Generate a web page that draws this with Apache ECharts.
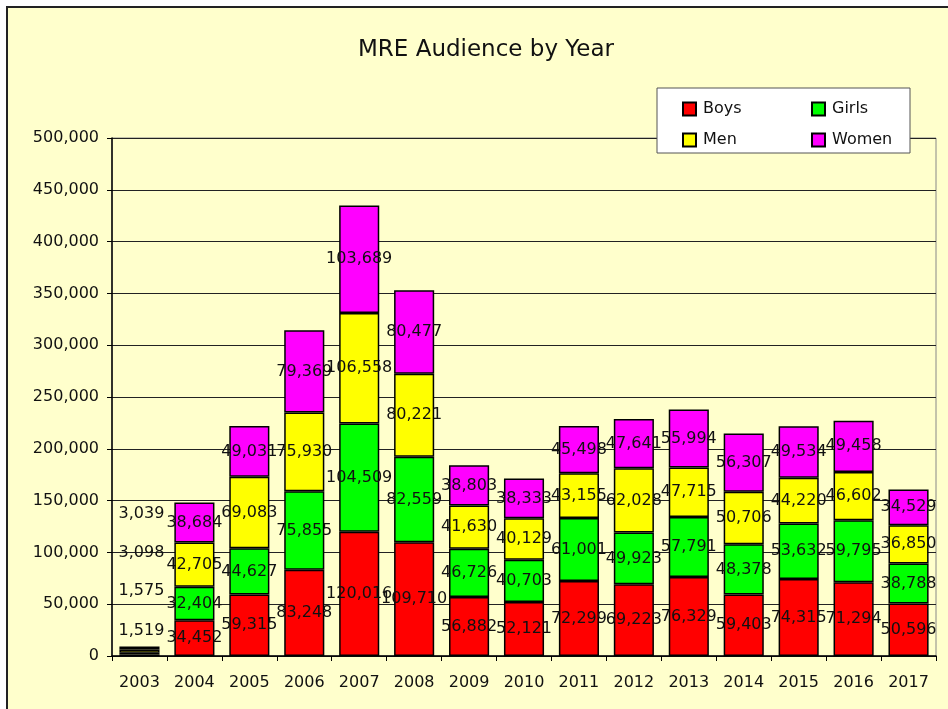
<!DOCTYPE html>
<html>
<head>
<meta charset="utf-8">
<script src="https://cdn.jsdelivr.net/npm/echarts@6/dist/echarts.min.js"></script>
<style>
  html, body { margin: 0; padding: 0; background: #ffffff; width: 948px; height: 709px; overflow: hidden; }
  #bg { position: absolute; left: 6px; top: 6px; width: 1000px; height: 800px; background: #FFFFCC; border-left: 2px solid #222; border-top: 2px solid #222; }
  #chart { position: absolute; left: 0; top: 0; width: 948px; height: 709px; }
</style>
</head>
<body>
<div id="bg"></div>
<div id="chart"></div>
<script>
// ---- Data ----
const years = ['2003','2004','2005','2006','2007','2008','2009','2010','2011','2012','2013','2014','2015','2016','2017'];
const boys  = [1519, 34452, 59315, 83248, 120016, 109710, 56882, 52121, 72299, 69223, 76329, 59403, 74315, 71294, 50596];
const girls = [1575, 32404, 44627, 75855, 104509, 82559, 46726, 40703, 61001, 49923, 57791, 48378, 53632, 59795, 38788];
const men   = [3098, 42705, 69083, 75930, 106558, 80221, 41630, 40129, 43155, 62028, 47715, 50706, 44220, 46602, 36850];
const women = [3039, 38684, 49031, 79369, 103689, 80477, 38803, 38333, 45498, 47641, 55994, 56307, 49534, 49458, 34529];
const yTicks = [0, 50000, 100000, 150000, 200000, 250000, 300000, 350000, 400000, 450000, 500000];

// ---- Styling ----
const FONT = 'DejaVu Sans';
const fmt = v => Number(v).toLocaleString('en-US');
// label offsets for the tiny first bar (labels lifted above it, as in the reference)
const firstBarLabelOffset = { Boys: [2, -24], Girls: [2, -63], Men: [2, -98], Women: [2, -134] };

function makeSeries(name, values, color) {
  return {
    name: name,
    type: 'bar',
    stack: 'total',
    barCategoryGap: '27%',
    itemStyle: { color: color, borderColor: '#000', borderWidth: 1.5 },
    label: {
      show: true,
      position: 'inside',
      color: '#111',
      fontFamily: FONT,
      fontSize: 16,
      formatter: p => fmt(p.value)
    },
    emphasis: { disabled: true },
    data: values.map((v, i) => i === 0
      ? { value: v, label: { offset: firstBarLabelOffset[name] } }
      : v)
  };
}

const chart = echarts.init(document.getElementById('chart'), null, { renderer: 'canvas' });
chart.setOption({
  backgroundColor: 'transparent',
  animation: false,
  title: {
    text: 'MRE Audience by Year',
    left: 481, top: 34, textAlign: 'center',
    textStyle: { fontFamily: FONT, fontSize: 23, fontWeight: 'normal', color: '#111' }
  },
  graphic: [{
    type: 'rect', z: 5,
    shape: { x: 657, y: 88, width: 253, height: 65 },
    style: { fill: '#ffffff', stroke: '#555', lineWidth: 1 }
  }],
  legend: [
    {
      data: ['Boys', 'Men'], orient: 'vertical', left: 677, top: 96, z: 10,
      itemWidth: 13, itemHeight: 13, itemGap: 15, icon: 'rect',
      textStyle: { fontFamily: FONT, fontSize: 16, color: '#111', padding: [0, 0, 0, 2] }
    },
    {
      data: ['Girls', 'Women'], orient: 'vertical', left: 806, top: 96, z: 10,
      itemWidth: 13, itemHeight: 13, itemGap: 15, icon: 'rect',
      textStyle: { fontFamily: FONT, fontSize: 16, color: '#111', padding: [0, 0, 0, 2] }
    }
  ],
  grid: {
    left: 112, top: 138, right: 12, bottom: 53,
    show: true, borderColor: '#888', borderWidth: 1, backgroundColor: 'transparent'
  },
  xAxis: {
    type: 'category',
    data: years,
    axisLine: { lineStyle: { color: '#000', width: 1.5 } },
    axisTick: { show: true, length: 5, lineStyle: { color: '#000' } },
    axisLabel: { fontFamily: FONT, fontSize: 16, color: '#111', margin: 19 }
  },
  yAxis: {
    type: 'value',
    min: yTicks[0], max: yTicks[yTicks.length - 1], interval: yTicks[1] - yTicks[0],
    axisLine: { show: true, lineStyle: { color: '#000', width: 1.5 } },
    axisTick: { show: true, length: 5, lineStyle: { color: '#000' } },
    splitLine: { show: true, lineStyle: { color: '#222', width: 1 } },
    axisLabel: { fontFamily: FONT, fontSize: 16, color: '#111', margin: 13, formatter: v => fmt(v) }
  },
  series: [
    makeSeries('Boys', boys, '#FF0000'),
    makeSeries('Girls', girls, '#00FF00'),
    makeSeries('Men', men, '#FFFF00'),
    makeSeries('Women', women, '#FF00FF')
  ]
});
</script>
</body>
</html>
